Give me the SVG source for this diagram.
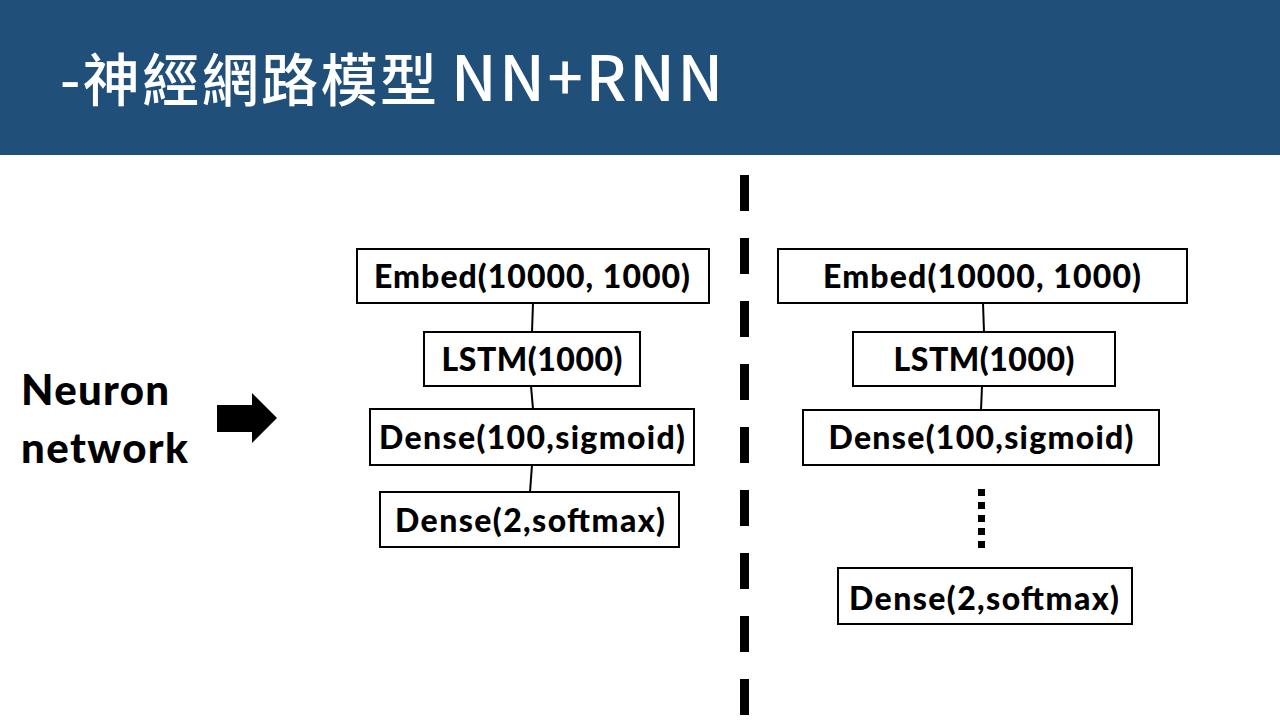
<svg xmlns="http://www.w3.org/2000/svg" width="1280" height="720" viewBox="0 0 1280 720">
  <style>
    .box { fill: #ffffff; stroke: #000000; stroke-width: 2; }
    .lbl { font-family: Lato, "Open Sans", "Liberation Sans", sans-serif; font-weight: 900; font-size: 32px; fill: #000000; text-anchor: middle; }
    .side { font-family: Lato, "Open Sans", "Liberation Sans", sans-serif; font-weight: 900; font-size: 42px; fill: #000000; }
    .title { font-family: "Noto Sans CJK TC", "Noto Sans", sans-serif; font-size: 57px; font-weight: 500; fill: #ffffff; }
    .conn { stroke: #000000; stroke-width: 2; fill: none; }
  </style>
  <rect x="0" y="0" width="1280" height="720" fill="#ffffff"/>
  <g id="header">
    <rect x="0" y="0" width="1280" height="155" fill="#20507A"/>
    <text class="title" x="60" y="101"><tspan textLength="377">-神經網路模型</tspan><tspan x="451" font-size="62" textLength="272">NN+RNN</tspan></text>
  </g>
  <g id="side-label">
    <text class="side" x="21" y="405" textLength="148">Neuron</text>
    <text class="side" x="21" y="463" textLength="167">network</text>
  </g>
  <g id="arrow">
    <polygon points="217,405 252,405 252,393 277,418 252,443 252,432 217,432" fill="#000000"/>
  </g>
  <g id="divider">
    <line x1="744.5" y1="175" x2="744.5" y2="715" stroke="#000000" stroke-width="9" stroke-dasharray="36 27"/>
  </g>
  <g id="connectors">
    <line class="conn" x1="533" y1="303" x2="532" y2="332"/>
    <line class="conn" x1="531" y1="386" x2="533" y2="409"/>
    <line class="conn" x1="532" y1="465" x2="530" y2="492"/>
    <line class="conn" x1="983" y1="303" x2="984" y2="332"/>
    <line class="conn" x1="982" y1="386" x2="981" y2="410"/>
    <line x1="981.5" y1="489" x2="981.5" y2="552" stroke="#000000" stroke-width="7" stroke-dasharray="7 6"/>
  </g>
  <g id="nn-embed">
    <rect class="box" x="357" y="249" width="352" height="54"/>
    <text class="lbl" x="532" y="288" textLength="316">Embed(10000, 1000)</text>
  </g>
  <g id="nn-lstm">
    <rect class="box" x="424" y="332" width="216" height="54" stroke-width="1.5"/>
    <text class="lbl" x="532" y="371" textLength="181">LSTM(1000)</text>
  </g>
  <g id="nn-dense100">
    <rect class="box" x="370" y="409" width="324" height="56"/>
    <text class="lbl" x="532" y="449" textLength="306">Dense(100,sigmoid)</text>
  </g>
  <g id="nn-dense2">
    <rect class="box" x="380" y="492" width="299" height="55"/>
    <text class="lbl" x="530" y="532" textLength="270">Dense(2,softmax)</text>
  </g>
  <g id="rnn-embed">
    <rect class="box" x="778" y="249" width="409" height="54"/>
    <text class="lbl" x="982" y="288" textLength="318">Embed(10000, 1000)</text>
  </g>
  <g id="rnn-lstm">
    <rect class="box" x="853" y="332" width="262" height="54" stroke-width="1.5"/>
    <text class="lbl" x="984" y="371" textLength="181">LSTM(1000)</text>
  </g>
  <g id="rnn-dense100">
    <rect class="box" x="803" y="410" width="356" height="55"/>
    <text class="lbl" x="981" y="449" textLength="305">Dense(100,sigmoid)</text>
  </g>
  <g id="rnn-dense2">
    <rect class="box" x="838" y="568" width="294" height="56"/>
    <text class="lbl" x="984" y="610" textLength="270">Dense(2,softmax)</text>
  </g>
</svg>
